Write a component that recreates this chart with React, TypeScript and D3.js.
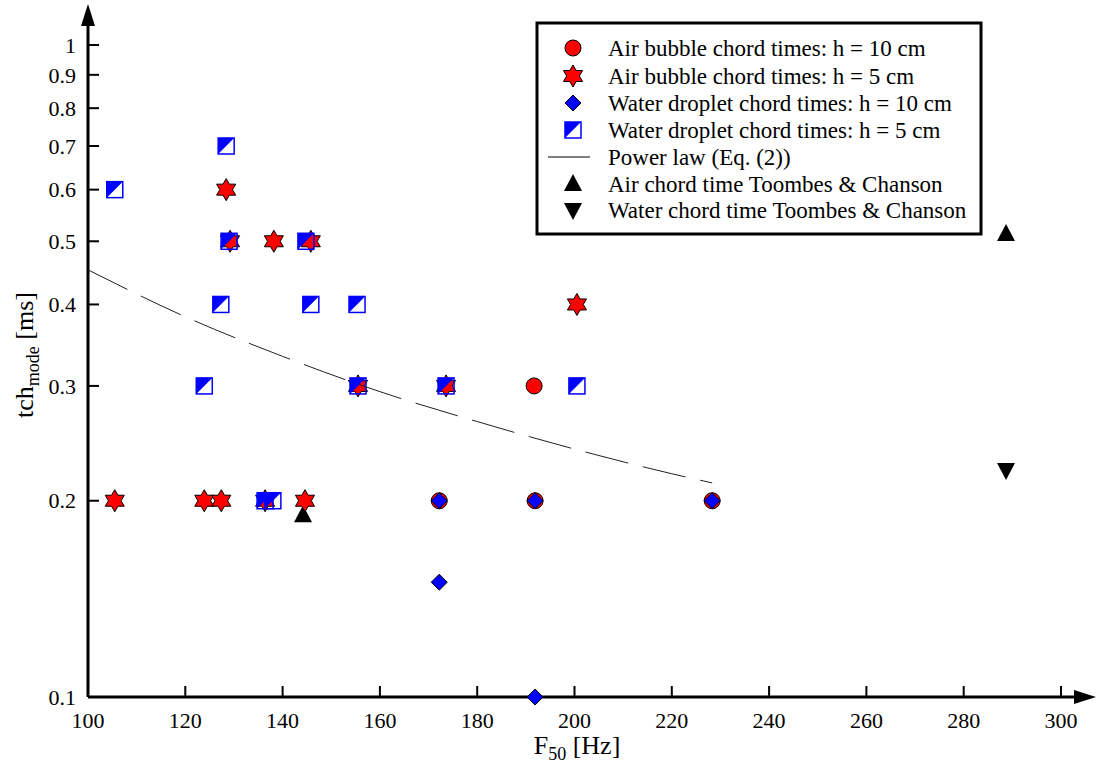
import React from "react";
import * as d3 from "d3";

const airBubble10F = [172.2, 191.9, 228.3, 191.7];
const airBubble10T = [0.2, 0.2, 0.2, 0.3];
const airBubble5F = [105.5, 123.9, 127.4, 136.4, 144.6, 128.4, 129.2, 138.2, 145.8, 155.5, 173.6, 200.5];
const airBubble5T = [0.2, 0.2, 0.2, 0.2, 0.2, 0.6, 0.5, 0.5, 0.5, 0.3, 0.3, 0.4];
const water10F = [172.2, 191.9, 228.3, 172.2, 191.9];
const water10T = [0.2, 0.2, 0.2, 0.15, 0.1];
const water5F = [105.5, 128.4, 129.0, 144.8, 127.3, 145.8, 155.3, 123.9, 155.5, 173.6, 200.5, 136.4, 138.0];
const water5T = [0.6, 0.7, 0.5, 0.5, 0.4, 0.4, 0.4, 0.3, 0.3, 0.3, 0.3, 0.2, 0.2];
const toombesAirF = [144.2, 288.7];
const toombesAirT = [0.19, 0.513];
const toombesWaterF = [288.7];
const toombesWaterT = [0.223];
const powerLawF = [100, 120, 140, 160, 180, 200, 220, 228.3];
const powerLawT = [0.452, 0.383, 0.333, 0.294, 0.2645, 0.24, 0.22, 0.213];

const xTicks = [100, 120, 140, 160, 180, 200, 220, 240, 260, 280, 300];
const yTicks = [0.1, 0.2, 0.3, 0.4, 0.5, 0.6, 0.7, 0.8, 0.9, 1];

const legendLabels = [
  "Air bubble chord times: h = 10 cm",
  "Air bubble chord times: h = 5 cm",
  "Water droplet chord times: h = 10 cm",
  "Water droplet chord times: h = 5 cm",
  "Power law (Eq. (2))",
  "Air chord time Toombes & Chanson",
  "Water chord time Toombes & Chanson",
];

const FONT = "'Liberation Serif', 'Times New Roman', serif";
const RED = "#ff0000";
const BLUE = "#0000ff";

const x = d3.scaleLinear().domain([100, 300]).range([88, 1061]);
const y = d3.scaleLog().domain([0.1, 1]).range([697, 45]);

function starPath(cx: number, cy: number, R = 11) {
  const r = R / Math.sqrt(3);
  const pts: [number, number][] = [];
  for (let k = 0; k < 12; k++) {
    const a = ((-90 + k * 30) * Math.PI) / 180;
    const rr = k % 2 === 0 ? R : r;
    pts.push([cx + rr * Math.cos(a), cy + rr * Math.sin(a)]);
  }
  return "M" + pts.map((p) => p.join(",")).join("L") + "Z";
}

function Circle({ cx, cy }: { cx: number; cy: number }) {
  return <circle cx={cx} cy={cy} r={8} fill={RED} stroke="#000" strokeWidth={1} />;
}
function Star({ cx, cy }: { cx: number; cy: number }) {
  return <path d={starPath(cx, cy)} fill={RED} stroke="#000" strokeWidth={1} />;
}
function Diamond({ cx, cy }: { cx: number; cy: number }) {
  const h = 8;
  return (
    <path
      d={`M${cx},${cy - h}L${cx + h},${cy}L${cx},${cy + h}L${cx - h},${cy}Z`}
      fill={BLUE}
      stroke="#000"
      strokeWidth={1}
    />
  );
}
function HalfSquare({ cx, cy, bg }: { cx: number; cy: number; bg?: string }) {
  const s = 8;
  return (
    <g>
      {bg && <rect x={cx - s} y={cy - s} width={2 * s} height={2 * s} fill={bg} />}
      <path d={`M${cx - s},${cy - s}L${cx + s},${cy - s}L${cx - s},${cy + s}Z`} fill={BLUE} />
      <rect x={cx - s} y={cy - s} width={2 * s} height={2 * s} fill="none" stroke={BLUE} strokeWidth={1.5} />
    </g>
  );
}
function TriUp({ cx, cy }: { cx: number; cy: number }) {
  return <path d={`M${cx},${cy - 10}L${cx + 9},${cy + 7}L${cx - 9},${cy + 7}Z`} fill="#000" />;
}
function TriDown({ cx, cy }: { cx: number; cy: number }) {
  return <path d={`M${cx},${cy + 10}L${cx + 9},${cy - 7}L${cx - 9},${cy - 7}Z`} fill="#000" />;
}

export default function App() {
  const plLine = d3
    .line<number>()
    .x((d, i) => x(powerLawF[i]))
    .y((d) => y(d))
    .curve(d3.curveMonotoneX)(powerLawT) as string;

  const x0 = x(100);
  const yB = y(0.1);
  const legendRows = [48, 76, 103, 130, 157, 184, 210];
  const lx = 573;
  const tx = 608;

  return (
    <div style={{ position: "absolute", left: 0, top: 0 }}>
      <svg width={1096} height={769} style={{ display: "block", background: "#fff" }} fontFamily={FONT}>
        {/* axes */}
        <line x1={x0} y1={yB} x2={x0} y2={20} stroke="#000" strokeWidth={3} />
        <path d={`M${x0},4L${x0 + 7},26L${x0 - 7},26Z`} fill="#000" />
        <line x1={x0} y1={yB} x2={1078} y2={yB} stroke="#000" strokeWidth={3} />
        <path d={`M1096,${yB}L1074,${yB - 7}L1074,${yB + 7}Z`} fill="#000" />

        {yTicks.map((t) => (
          <g key={"y" + t}>
            {t !== 0.1 && <line x1={x0} x2={x0 + 11} y1={y(t)} y2={y(t)} stroke="#000" strokeWidth={2} />}
            <text x={76} y={y(t)} dy="0.35em" textAnchor="end" fontSize={22}>
              {String(t)}
            </text>
          </g>
        ))}
        {xTicks.map((t) => (
          <g key={"x" + t}>
            {t !== 100 && <line x1={x(t)} x2={x(t)} y1={yB} y2={yB - 11} stroke="#000" strokeWidth={2} />}
            <text x={x(t)} y={728} textAnchor="middle" fontSize={22}>
              {String(t)}
            </text>
          </g>
        ))}

        <text x={577} y={754} textAnchor="middle" fontSize={26}>
          F<tspan fontSize={18} dy={6}>50</tspan>
          <tspan dy={-6}> [Hz]</tspan>
        </text>
        <text transform="translate(33,355) rotate(-90)" textAnchor="middle" fontSize={26}>
          tch<tspan fontSize={18} dy={6}>mode</tspan>
          <tspan dy={-6}> [ms]</tspan>
        </text>

        {/* markers */}
        {toombesAirF.map((f, i) => (
          <TriUp key={"ta" + i} cx={x(f)} cy={y(toombesAirT[i])} />
        ))}
        {toombesWaterF.map((f, i) => (
          <TriDown key={"tw" + i} cx={x(f)} cy={y(toombesWaterT[i])} />
        ))}
        {airBubble10F.map((f, i) => (
          <Circle key={"c" + i} cx={x(f)} cy={y(airBubble10T[i])} />
        ))}
        {airBubble5F.map((f, i) => (
          <Star key={"s" + i} cx={x(f)} cy={y(airBubble5T[i])} />
        ))}
        {water10F.map((f, i) => (
          <Diamond key={"d" + i} cx={x(f)} cy={y(water10T[i])} />
        ))}
        {water5F.map((f, i) => (
          <HalfSquare key={"q" + i} cx={x(f)} cy={y(water5T[i])} />
        ))}

        <path d={plLine} fill="none" stroke="#222" strokeWidth={1} strokeDasharray="44,15" />

        {/* legend */}
        <rect x={537} y={23} width={444} height={211} fill="#fff" stroke="#000" strokeWidth={3} />
        <Circle cx={lx} cy={legendRows[0]} />
        <Star cx={lx} cy={legendRows[1]} />
        <Diamond cx={lx} cy={legendRows[2]} />
        <HalfSquare cx={lx} cy={legendRows[3]} bg="#fff" />
        <line x1={548} x2={590} y1={legendRows[4]} y2={legendRows[4]} stroke="#000" strokeWidth={1} />
        <TriUp cx={lx} cy={legendRows[5]} />
        <TriDown cx={lx} cy={legendRows[6]} />
        {legendLabels.map((l, i) => (
          <text key={l} x={tx} y={legendRows[i]} dy="0.33em" fontSize={23}>
            {l}
          </text>
        ))}
      </svg>
    </div>
  );
}
